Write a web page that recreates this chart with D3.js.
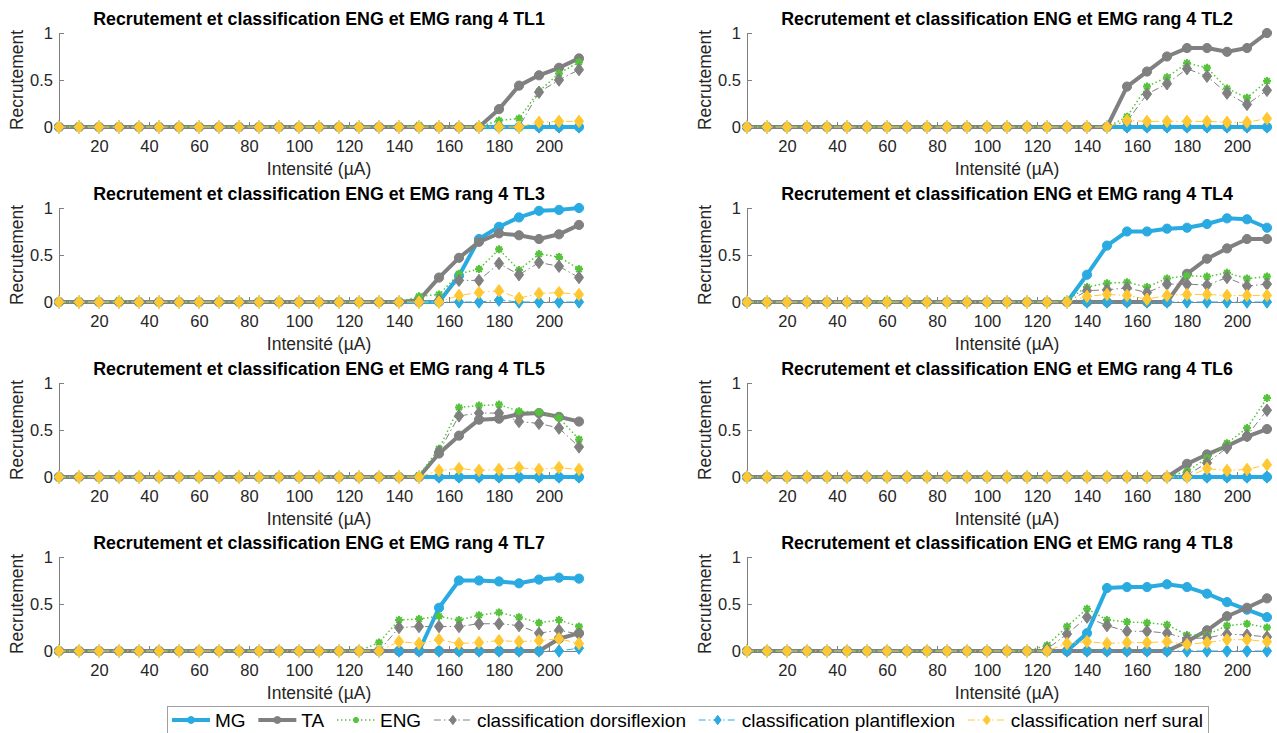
<!DOCTYPE html>
<html>
<head>
<meta charset="utf-8">
<script src="https://cdn.jsdelivr.net/npm/d3@7"></script>
<style>
  html, body { margin: 0; padding: 0; background: #ffffff; }
  svg { display: block; font-family: "Liberation Sans", Arial, sans-serif; }
</style>
</head>
<body>
<svg id="chart" width="1277" height="733"></svg>
<script>
// ---------------- DATA ----------------
const INTENSITY = [4,12,20,28,36,44,52,60,68,76,84,92,100,108,116,124,132,140,148,156,164,172,180,188,196,204,212];
const X_TICKS = [20,40,60,80,100,120,140,160,180,200];
const Y_TICKS = [0,0.5,1];
const SERIES_NAMES = ["MG","TA","ENG","classification dorsiflexion","classification plantiflexion","classification nerf sural"];
const TITLES = [
  "Recrutement et classification ENG et EMG rang 4 TL1",
  "Recrutement et classification ENG et EMG rang 4 TL2",
  "Recrutement et classification ENG et EMG rang 4 TL3",
  "Recrutement et classification ENG et EMG rang 4 TL4",
  "Recrutement et classification ENG et EMG rang 4 TL5",
  "Recrutement et classification ENG et EMG rang 4 TL6",
  "Recrutement et classification ENG et EMG rang 4 TL7",
  "Recrutement et classification ENG et EMG rang 4 TL8"
];
const X_LABEL = "Intensité (µA)";
const Y_LABEL = "Recrutement";

// TL1
const TL1_MG    = [0,0,0,0,0,0,0,0,0,0, 0,0,0,0,0,0,0,0,0,0, 0,0,0,0,0,0,0];
const TL1_TA    = [0,0,0,0,0,0,0,0,0,0, 0,0,0,0,0,0,0,0,0,0, 0,0,0.19,0.44,0.55,0.63,0.73];
const TL1_ENG   = [0,0,0,0,0,0,0,0,0,0, 0,0,0,0,0,0,0,0,0.02,0, 0,0,0.07,0.09,0.38,0.57,0.69];
const TL1_DORS  = [0,0,0,0,0,0,0,0,0,0, 0,0,0,0,0,0,0,0,0,0, 0,0,0,0,0.37,0.50,0.61];
const TL1_PLANT = [0,0,0,0,0,0,0,0,0,0, 0,0,0,0,0,0,0,0,0,0, 0,0,0,0,0,0,0];
const TL1_SURAL = [0,0,0,0,0,0,0,0,0,0, 0,0,0,0,0,0,0,0,0,0, 0,0,0,0,0.05,0.06,0.06];
// TL2
const TL2_MG    = [0,0,0,0,0,0,0,0,0,0, 0,0,0,0,0,0,0,0,0,0, 0,0,0,0,0,0,0];
const TL2_TA    = [0,0,0,0,0,0,0,0,0,0, 0,0,0,0,0,0,0,0,0,0.43, 0.59,0.75,0.84,0.84,0.80,0.84,1.0];
const TL2_ENG   = [0,0,0,0,0,0,0,0,0,0, 0,0,0,0,0,0,0,0,0,0.11, 0.43,0.53,0.68,0.63,0.41,0.31,0.49];
const TL2_DORS  = [0,0,0,0,0,0,0,0,0,0, 0,0,0,0,0,0,0,0,0,0.06, 0.35,0.46,0.62,0.54,0.36,0.24,0.39];
const TL2_PLANT = [0,0,0,0,0,0,0,0,0,0, 0,0,0,0,0,0,0,0,0,0, 0,0,0,0,0,0,0];
const TL2_SURAL = [0,0,0,0,0,0,0,0,0,0, 0,0,0,0,0,0,0,0,0,0.07, 0.06,0.06,0.06,0.06,0.05,0.05,0.09];
// TL3
const TL3_MG    = [0,0,0,0,0,0,0,0,0,0, 0,0,0,0,0,0,0,0,0,0, 0.28,0.67,0.80,0.90,0.97,0.98,1.0];
const TL3_TA    = [0,0,0,0,0,0,0,0,0,0, 0,0,0,0,0,0,0,0,0.02,0.26, 0.47,0.64,0.73,0.71,0.67,0.72,0.82];
const TL3_ENG   = [0,0,0,0.02,0,0,0,0,0,0.01, 0,0,0,0,0,0,0,0,0.06,0.08, 0.30,0.35,0.56,0.34,0.51,0.48,0.35];
const TL3_DORS  = [0,0,0,0,0,0,0,0,0,0, 0,0,0,0,0,0,0,0,0,0.02, 0.23,0.23,0.41,0.29,0.42,0.38,0.26];
const TL3_PLANT = [0,0,0,0,0,0,0,0,0,0, 0,0,0,0,0,0,0,0,0,0, 0,0,0.02,0,0,0,0];
const TL3_SURAL = [0,0,0,0,0,0,0,0,0,0, 0,0,0,0,0,0,0,0,0,0, 0.07,0.10,0.12,0.04,0.09,0.10,0.08];
// TL4
const TL4_MG    = [0,0,0,0,0,0,0,0,0,0, 0,0,0,0,0,0,0,0.29,0.60,0.75, 0.75,0.78,0.79,0.83,0.89,0.88,0.79];
const TL4_TA    = [0,0,0,0,0,0,0,0,0,0, 0,0,0,0,0,0,0,0,0,0, 0,0,0.30,0.46,0.57,0.67,0.67];
const TL4_ENG   = [0,0,0,0,0,0,0,0.02,0,0, 0,0,0,0,0,0,0.02,0.16,0.20,0.21, 0.16,0.25,0.28,0.27,0.31,0.25,0.27];
const TL4_DORS  = [0,0,0,0,0,0,0,0,0,0, 0,0,0,0,0,0,0,0.12,0.13,0.15, 0.10,0.19,0.19,0.18,0.26,0.17,0.19];
const TL4_PLANT = [0,0,0,0,0,0,0,0,0,0, 0,0,0,0,0,0,0,0,0,0, 0,0,0,0,0,0,0];
const TL4_SURAL = [0,0,0,0,0,0,0,0,0,0, 0,0,0,0,0,0,0,0.06,0.08,0.07, 0.03,0.07,0.08,0.08,0.07,0.07,0.07];
// TL5
const TL5_MG    = [0,0,0,0,0,0,0,0,0,0, 0,0,0,0,0,0,0,0,0,0, 0,0,0,0,0,0,0];
const TL5_TA    = [0,0,0,0,0,0,0,0,0,0, 0,0,0,0,0,0,0,0,0,0.25, 0.44,0.61,0.62,0.67,0.68,0.64,0.59];
const TL5_ENG   = [0,0,0,0,0,0,0,0,0,0, 0,0,0,0,0,0,0,0,0.02,0.30, 0.74,0.76,0.77,0.70,0.69,0.63,0.40];
const TL5_DORS  = [0,0,0,0,0,0,0,0,0,0, 0,0,0,0,0,0,0,0,0,0.27, 0.65,0.68,0.68,0.59,0.57,0.52,0.32];
const TL5_PLANT = [0,0,0,0,0,0,0,0,0,0, 0,0,0,0,0,0,0,0,0,0, 0,0,0,0,0,0,0];
const TL5_SURAL = [0,0,0,0,0,0,0,0,0,0, 0,0,0,0,0,0,0,0,0,0.07, 0.09,0.07,0.08,0.10,0.08,0.10,0.08];
// TL6
const TL6_MG    = [0,0,0,0,0,0,0,0,0,0, 0,0,0,0,0,0,0,0,0,0, 0,0,0,0,0,0,0];
const TL6_TA    = [0,0,0,0,0,0,0,0,0,0, 0,0,0,0,0,0,0,0,0,0, 0,0,0.14,0.24,0.33,0.43,0.51];
const TL6_ENG   = [0,0,0,0,0,0,0,0,0,0, 0,0,0,0,0,0,0,0,0,0, 0,0,0.06,0.20,0.36,0.52,0.84];
const TL6_DORS  = [0,0,0,0,0,0,0,0,0,0, 0,0,0,0,0,0,0,0,0,0, 0,0,0.02,0.15,0.31,0.44,0.71];
const TL6_PLANT = [0,0,0,0,0,0,0,0,0,0, 0,0,0,0,0,0,0,0,0,0, 0,0,0,0,0,0,0];
const TL6_SURAL = [0,0,0,0,0,0,0,0,0,0, 0,0,0,0,0,0,0,0,0,0, 0,0,0,0.09,0.07,0.08,0.13];
// TL7
const TL7_MG    = [0,0,0,0,0,0,0,0,0,0, 0,0,0,0,0,0,0,0,0,0.46, 0.75,0.75,0.74,0.72,0.76,0.78,0.77];
const TL7_TA    = [0,0,0,0,0,0,0,0,0,0, 0,0,0,0,0,0,0,0,0,0, 0,0,0,0,0,0.13,0.19];
const TL7_ENG   = [0,0,0,0,0,0,0,0,0,0, 0,0,0,0,0,0,0.09,0.33,0.34,0.37, 0.33,0.38,0.41,0.36,0.30,0.33,0.26];
const TL7_DORS  = [0,0,0,0,0,0,0,0,0,0, 0,0,0,0,0,0,0,0.25,0.26,0.26, 0.26,0.29,0.29,0.27,0.19,0.22,0.18];
const TL7_PLANT = [0,0,0,0,0,0,0,0,0,0, 0,0,0,0,0,0,0,0,0,0, 0,0,0,0,0,0,0.03];
const TL7_SURAL = [0,0,0,0,0,0,0,0,0,0, 0,0,0,0,0,0,0,0.10,0.08,0.12, 0.08,0.09,0.11,0.10,0.11,0.13,0.08];
// TL8
const TL8_MG    = [0,0,0,0,0,0,0,0,0,0, 0,0,0,0,0,0,0,0.19,0.67,0.68, 0.68,0.71,0.68,0.61,0.52,0.44,0.36];
const TL8_TA    = [0,0,0,0,0,0,0,0,0,0, 0,0,0,0,0,0,0,0,0,0, 0,0,0.10,0.22,0.37,0.46,0.56];
const TL8_ENG   = [0,0,0,0,0,0,0,0,0,0, 0,0,0,0,0,0.06,0.26,0.45,0.33,0.31, 0.30,0.28,0.17,0.17,0.27,0.29,0.25];
const TL8_DORS  = [0,0,0,0,0,0,0,0,0,0, 0,0,0,0,0,0.02,0.18,0.36,0.27,0.21, 0.21,0.19,0.13,0.14,0.18,0.17,0.15];
const TL8_PLANT = [0,0,0,0,0,0,0,0,0,0, 0,0,0,0,0,0,0,0,0,0, 0,0,0,0,0,0,0];
const TL8_SURAL = [0,0,0,0,0,0,0,0,0,0, 0,0,0,0,0,0,0.08,0.10,0.08,0.09, 0.09,0.10,0.07,0.09,0.12,0.12,0.10];

const PANEL_DATA = [
  [TL1_MG, TL1_TA, TL1_ENG, TL1_DORS, TL1_PLANT, TL1_SURAL],
  [TL2_MG, TL2_TA, TL2_ENG, TL2_DORS, TL2_PLANT, TL2_SURAL],
  [TL3_MG, TL3_TA, TL3_ENG, TL3_DORS, TL3_PLANT, TL3_SURAL],
  [TL4_MG, TL4_TA, TL4_ENG, TL4_DORS, TL4_PLANT, TL4_SURAL],
  [TL5_MG, TL5_TA, TL5_ENG, TL5_DORS, TL5_PLANT, TL5_SURAL],
  [TL6_MG, TL6_TA, TL6_ENG, TL6_DORS, TL6_PLANT, TL6_SURAL],
  [TL7_MG, TL7_TA, TL7_ENG, TL7_DORS, TL7_PLANT, TL7_SURAL],
  [TL8_MG, TL8_TA, TL8_ENG, TL8_DORS, TL8_PLANT, TL8_SURAL]
];

// ---------------- STYLES ----------------
const BLUE = "#29abe2", GRAY = "#808080", GREEN = "#55c43a", YELLOW = "#ffc832";
const STYLES = [
  {color: BLUE,   width: 4,   dash: null,          marker: "circle"},
  {color: GRAY,   width: 4,   dash: null,          marker: "circle"},
  {color: GREEN,  width: 1.5, dash: "1.5,2.5",     marker: "star"},
  {color: GRAY,   width: 1,   dash: "7,3,1.5,3",   marker: "diamond"},
  {color: BLUE,   width: 1,   dash: "7,3,1.5,3",   marker: "diamond"},
  {color: YELLOW, width: 1,   dash: "7,3,1.5,3",   marker: "diamond"}
];

// ---------------- LAYOUT ----------------
const COL_X = [59, 747];
const PLOT_W = 520;
const ROW_Y = [33, 208, 383, 557];
const PLOT_H = 94;
const FONT = "'Liberation Sans', Arial, sans-serif";
const TEXT_COLOR = "#262626";
const AXIS_COLOR = "#808080";

const svg = d3.select("#chart");

function markerPath(type, scale) {
  const s = scale || 1;
  if (type === "diamond") {
    const w = 4.6*s, h = 6.2*s;
    return `M0,${-h}L${w},0L0,${h}L${-w},0Z`;
  }
  if (type === "star") {
    const r = 4*s, d = r*0.7071;
    return `M${-r},0L${r},0M0,${-r}L0,${r}M${-d},${-d}L${d},${d}M${-d},${d}L${d},${-d}`;
  }
  return null;
}

function drawMarker(g, type, color, x, y, scale) {
  const s = scale || 1;
  if (type === "circle") {
    g.append("circle").attr("cx", x).attr("cy", y).attr("r", 4.6*s)
      .attr("fill", color).attr("stroke", color).attr("stroke-width", 1);
  } else if (type === "diamond") {
    g.append("path").attr("d", markerPath("diamond", s)).attr("transform", `translate(${x},${y})`)
      .attr("fill", color).attr("stroke", color).attr("stroke-width", 1);
  } else {
    g.append("path").attr("d", markerPath("star", s)).attr("transform", `translate(${x},${y})`)
      .attr("fill", "none").attr("stroke", color).attr("stroke-width", 2);
  }
}

PANEL_DATA.forEach((series, p) => {
  const col = p % 2, row = Math.floor(p / 2);
  const x0 = COL_X[col], y0 = ROW_Y[row];
  const x = d3.scaleLinear().domain([d3.min(INTENSITY), d3.max(INTENSITY)]).range([x0, x0 + PLOT_W]);
  const y = d3.scaleLinear().domain([0, 1]).range([y0 + PLOT_H, y0]);
  const g = svg.append("g");

  // axes
  const xAxis = d3.axisBottom(x).tickValues(X_TICKS).tickSizeInner(-5).tickSizeOuter(0).tickPadding(13.5);
  const yAxis = d3.axisLeft(y).tickValues(Y_TICKS).tickSizeInner(-5).tickSizeOuter(0).tickPadding(6)
    .tickFormat(d => d === 0.5 ? "0.5" : String(d));
  const gx = g.append("g").attr("transform", `translate(0,${y0 + PLOT_H})`).call(xAxis);
  const gy = g.append("g").attr("transform", `translate(${x0},0)`).call(yAxis);
  [gx, gy].forEach(a => {
    a.select(".domain").attr("stroke", AXIS_COLOR).attr("stroke-width", 1);
    a.selectAll(".tick line").attr("stroke", AXIS_COLOR).attr("stroke-width", 1);
    a.selectAll(".tick text").attr("fill", TEXT_COLOR).style("font-family", FONT).style("font-size", "16.5px");
  });

  // title
  g.append("text").attr("x", x0 + PLOT_W/2).attr("y", y0 - 8).attr("text-anchor", "middle")
    .style("font-family", FONT).style("font-size", "17.8px").style("font-weight", "bold")
    .attr("fill", "#000").text(TITLES[p]);
  // x label
  g.append("text").attr("x", x0 + PLOT_W/2).attr("y", y0 + PLOT_H + 48).attr("text-anchor", "middle")
    .style("font-family", FONT).style("font-size", "17.5px").attr("fill", TEXT_COLOR).text(X_LABEL);
  // y label
  g.append("text").attr("transform", `translate(${x0 - 36},${y0 + PLOT_H/2}) rotate(-90)`)
    .attr("text-anchor", "middle")
    .style("font-family", FONT).style("font-size", "17.5px").attr("fill", TEXT_COLOR).text(Y_LABEL);

  // series
  series.forEach((vals, k) => {
    const st = STYLES[k];
    const pts = INTENSITY.map((xv, i) => [x(xv), y(vals[i])]);
    const sg = g.append("g");
    sg.append("path").attr("d", d3.line()(pts)).attr("fill", "none")
      .attr("stroke", st.color).attr("stroke-width", st.width)
      .attr("stroke-dasharray", st.dash).attr("stroke-linejoin", "round");
    pts.forEach(pt => drawMarker(sg, st.marker, st.color, pt[0], pt[1], 1));
  });
});

// ---------------- LEGEND ----------------
const LEG_LEFT = 167, LEG_RIGHT = 1208, LEG_TOP = 706;
const legend = svg.append("g");
legend.append("rect").attr("x", LEG_LEFT + 0.5).attr("y", LEG_TOP + 0.5)
  .attr("width", LEG_RIGHT - LEG_LEFT).attr("height", 32)
  .attr("fill", "#fff").attr("stroke", "#a0a0a0").attr("stroke-width", 1);
const ICON = 38, GAP_T = 5, LY = 720, LTEXT_Y = 727;
const labels = SERIES_NAMES.map(n => legend.append("text").attr("y", LTEXT_Y)
  .style("font-family", FONT).style("font-size", "19px").attr("fill", "#000").text(n));
const widths = labels.map(t => t.node().getComputedTextLength());
const innerL = LEG_LEFT + 5, innerR = LEG_RIGHT - 5;
const used = d3.sum(widths) + SERIES_NAMES.length * (ICON + GAP_T);
const gap = (innerR - innerL - used) / (SERIES_NAMES.length - 1);
let cx = innerL;
SERIES_NAMES.forEach((n, k) => {
  const st = STYLES[k];
  legend.append("line").attr("x1", cx).attr("x2", cx + ICON).attr("y1", LY).attr("y2", LY)
    .attr("stroke", st.color).attr("stroke-width", st.width).attr("stroke-dasharray", st.dash);
  drawMarker(legend, st.marker, st.color, cx + ICON/2, LY, 0.75);
  labels[k].attr("x", cx + ICON + GAP_T);
  cx += ICON + GAP_T + widths[k] + gap;
});
</script>
</body>
</html>
